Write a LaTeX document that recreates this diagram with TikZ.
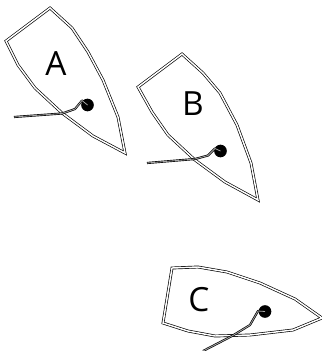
\documentclass[tikz,border=0pt]{standalone}
\usepackage{fontspec}
\setmainfont{Open Sans}
\usepackage{xcolor}

\tikzset{
hull/.style={double, line width=0.5pt, double distance=1.1pt, line join=miter},
tiller/.style={double=gray!70, line width=0.5pt, double distance=0.6pt, line join=round},
mast/.style={circle, fill=black, inner sep=0pt, minimum size=9.5pt},
boatname/.style={font=\fontsize{25}{25}\selectfont, inner sep=0pt}
}

\begin{document}
\begin{tikzpicture}[x=0.75pt, y=-0.75pt]
\useasboundingbox (0,0) rectangle (322,351);

%boat A
\draw[hull] (50,8)--(72,28)--(88,52)--(103,80)--(118,117)--(125,153)--(93,136)--(62,113)--(35,88)--(18,65)--(6,41)--cycle;
\node[mast] (mastA) at (87.5,105) {};
\coordinate (endA) at (14,117);
\draw[tiller] (endA)--(62,113.5)--(75,109)--(82,100.5)--(mastA.center);
\node[boatname] (nameA) at (56,64) {A};

%boat B
\draw[hull] (182,54)--(203,73)--(220,93)--(237,125)--(251,163)--(258,200)--(225,182)--(195,160)--(168,135)--(152,112)--(138,87)--cycle;
\node[mast] (mastB) at (220.5,151) {};
\coordinate (endB) at (147,163);
\draw[tiller] (endB)--(195,159)--(208,155.5)--(215,148.5)--(mastB.center);
\node[boatname] (nameB) at (193,104) {B};

%boat C
\draw[hull] (172,268)--(198,267)--(227,272)--(260,283)--(295,299)--(322,318)--(293,330)--(250,335)--(215,336)--(188,331)--(163,323)--cycle;
\node[mast] (mastC) at (265,311.5) {};
\coordinate (endC) at (203,351);
\draw[tiller] (endC)--(232,336)--(250,325)--(258,311)--(mastC.center);
\node[boatname] (nameC) at (199,300) {C};
\end{tikzpicture}
\end{document}
